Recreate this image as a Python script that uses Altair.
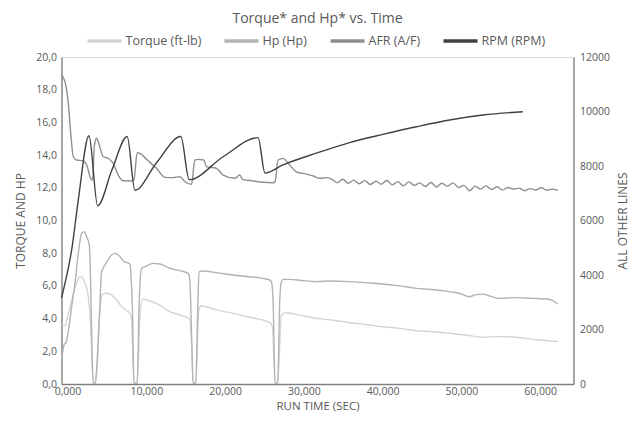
import altair as alt
import pandas as pd

series_names = ["Torque (ft-lb)", "Hp (Hp)", "AFR (A/F)", "RPM (RPM)"]
series_colors = ["#d4d4d4", "#b3b3b3", "#8f8f8f", "#404040"]

torque_t = [0.05, 0.44, 0.66, 1.08, 1.71, 2.26, 2.56, 2.98, 3.40, 3.61, 3.83, 4.03, 4.29, 4.46,
            4.88, 5.22, 5.73, 6.37, 7.00, 7.63, 8.69, 8.90, 9.19, 9.61, 9.95, 10.30, 10.80,
            12.49, 13.76, 15.03, 16.29, 16.51, 16.71, 17.05, 17.44, 17.78, 19.68, 21.78, 23.90,
            26.44, 26.78, 27.11, 27.45, 27.92, 28.47, 30.5, 32.36, 34.5, 36.58, 38.7, 40.81,
            43.0, 45.04, 47.2, 49.26, 51.5, 53.49, 55.6, 57.72, 59.82, 61.5, 63.0]
torque_v = [3.61, 3.55, 3.91, 4.73, 5.85, 6.52, 6.56, 6.16, 5.34, 4.32, 2.08, 0.05, 0.05, 0.67,
            4.53, 5.49, 5.55, 5.44, 5.14, 4.73, 4.32, 3.91, 0.05, 0.05, 4.12, 5.18, 5.14,
            4.83, 4.42, 4.22, 3.96, 2.50, 0.05, 0.05, 4.53, 4.77, 4.53, 4.32, 4.08,
            3.75, 3.50, 0.05, 0.05, 4.22, 4.36, 4.18, 4.02, 3.90, 3.75, 3.64, 3.50,
            3.40, 3.26, 3.20, 3.10, 2.98, 2.86, 2.90, 2.86, 2.73, 2.66, 2.59]

hp_t = [0.05, 0.32, 0.57, 0.86, 1.29, 1.71, 2.13, 2.56, 2.85, 3.20, 3.53, 3.70, 3.87, 4.03,
        4.29, 4.46, 4.79, 5.10, 5.52, 6.37, 6.78, 7.42, 7.84, 8.69, 8.81, 9.03, 9.19, 9.61,
        9.87, 10.17, 10.59, 11.64, 12.49, 13.76, 15.03, 16.08, 16.29, 16.51, 16.71, 17.05,
        17.27, 17.47, 17.98, 19.68, 21.78, 23.90, 25.59, 26.44, 26.65, 26.86, 27.11, 27.45,
        27.71, 27.92, 28.12, 28.97, 30.5, 32.36, 34.0, 36.58, 38.5, 40.81, 43.0, 45.04,
        47.0, 49.26, 50.5, 51.8, 52.5, 53.49, 54.5, 55.6, 57.5, 59.82, 61.94, 63.0]
hp_v = [1.57, 2.39, 2.53, 3.20, 4.73, 6.16, 7.99, 9.21, 9.31, 9.00, 8.50, 6.16, 2.08, 0.05,
        0.05, 0.86, 3.90, 6.87, 7.28, 7.89, 7.99, 7.79, 7.52, 7.34, 6.77, 4.12, 0.05, 0.05,
        5.14, 7.08, 7.17, 7.38, 7.34, 7.08, 6.93, 6.77, 6.36, 3.10, 0.05, 0.05,
        4.12, 6.87, 6.91, 6.81, 6.67, 6.56, 6.46, 6.36, 6.26, 5.14, 0.05, 0.05,
        5.14, 6.26, 6.40, 6.40, 6.33, 6.26, 6.30, 6.26, 6.20, 6.12, 6.00, 5.85,
        5.78, 5.65, 5.55, 5.34, 5.45, 5.50, 5.36, 5.24, 5.28, 5.24, 5.18, 4.89]

afr_t = [0.0, 0.44, 0.86, 1.17, 1.50, 1.93, 2.76, 3.20, 3.70, 3.96, 4.16, 4.46, 4.79, 5.30,
         5.93, 6.57, 7.20, 7.84, 8.90, 9.19, 9.61, 9.95, 10.80, 12.07, 13.12, 14.18, 15.03,
         15.66, 16.51, 16.93, 17.35, 18.07, 18.41, 19.68, 20.52, 22.00, 22.63, 22.98, 24.32,
         25.59, 26.86, 27.11, 27.49, 28.12, 28.97, 29.82, 31.09, 32.00, 32.78, 33.6, 34.46,
         35.0, 35.7, 36.4, 37.1, 37.8, 38.5, 39.2, 39.9, 40.6, 41.3, 42.0, 42.7, 43.4, 44.1,
         44.8, 45.5, 46.2, 46.9, 47.6, 48.3, 49.0, 49.7, 50.4, 51.1, 51.8, 52.5, 53.2, 53.9,
         54.6, 55.3, 56.0, 56.7, 57.4, 58.1, 58.8, 59.5, 60.2, 60.9, 61.6, 62.3, 63.0]
afr_v = [18.90, 18.49, 17.17, 15.33, 13.90, 13.70, 13.66, 13.39, 12.58, 12.48, 14.51, 15.03,
         14.62, 13.90, 13.80, 13.50, 12.78, 12.43, 12.42, 12.48, 14.15, 14.11, 13.74, 13.19,
         12.64, 12.62, 12.68, 12.37, 12.21, 13.70, 13.74, 13.70, 13.29, 13.19, 12.78, 12.58,
         12.78, 12.52, 12.42, 12.34, 12.31, 12.37, 13.70, 13.80, 13.39, 12.98, 12.84, 12.72,
         12.58, 12.62, 12.48,
         12.30, 12.52, 12.28, 12.47, 12.25, 12.44, 12.20, 12.40, 12.22, 12.45, 12.18, 12.38,
         12.12, 12.36, 12.15, 12.30, 12.08, 12.32, 12.05, 12.28, 12.10, 12.30, 12.02, 12.15,
         11.82, 12.10, 11.92, 12.12, 11.90, 12.06, 11.86, 12.02, 11.92, 11.98, 11.82, 11.95,
         11.86, 12.00, 11.85, 11.92, 11.85]

rpm_t = [0.0, 0.86, 1.29, 2.13, 3.49, 4.59, 6.4, 8.34, 9.32, 12.07, 15.15, 16.21, 20.52,
         24.95, 25.84, 28.12, 32.36, 36.58, 40.81, 45.04, 49.26, 53.49, 58.56]
rpm_v = [3150, 4250, 4920, 6750, 9110, 6540, 7850, 9080, 7110, 8120, 9080, 7500, 8340,
         9040, 7740, 8040, 8470, 8860, 9160, 9440, 9690, 9870, 9990]

left_rows = []
for name, ts, vs in [(series_names[0], torque_t, torque_v),
                     (series_names[1], hp_t, hp_v),
                     (series_names[2], afr_t, afr_v)]:
    for i, (t, v) in enumerate(zip(ts, vs)):
        left_rows.append({"t": t, "v": v, "series": name, "i": i})
left_df = pd.DataFrame(left_rows)
rpm_df = pd.DataFrame({"t": rpm_t, "v": rpm_v, "series": series_names[3], "i": range(len(rpm_t))})

FONT = "Open Sans"
TXT = "#595959"

color = alt.Color(
    "series:N",
    scale=alt.Scale(domain=series_names, range=series_colors),
    legend=alt.Legend(
        title=None, orient="none", direction="horizontal", columns=4,
        legendX=24, legendY=-35, padding=0,
        symbolType="stroke", symbolSize=1156, symbolStrokeWidth=3.5,
        labelFont=FONT, labelFontSize=12.5, labelColor=TXT, labelOffset=2,
        columnPadding=16,
    ),
)

x = alt.X(
    "t:Q",
    scale=alt.Scale(domain=[0, 65], nice=False, zero=False),
    axis=alt.Axis(
        title="RUN TIME (SEC)", values=[0, 10, 20, 30, 40, 50, 60],
        labelExpr="replace(format(datum.value, '.3f'), '.', ',')",
        labelFlush=False, labelOffset=6,
        grid=False, ticks=False, labelPadding=2, titlePadding=4,
        domainColor="#7f7f7f", domainWidth=1.3,
        labelFont=FONT, labelFontSize=10.5, labelColor=TXT,
        titleFont=FONT, titleFontSize=11.5, titleFontWeight="normal", titleColor=TXT,
    ),
)

left = alt.Chart(left_df).mark_line(strokeWidth=1.4, interpolate="monotone").encode(
    x=x,
    y=alt.Y(
        "v:Q",
        scale=alt.Scale(domain=[0, 20], nice=False),
        axis=alt.Axis(
            title="TORQUE AND HP", values=list(range(0, 21, 2)),
            labelExpr="replace(format(datum.value, '.1f'), '.', ',')",
            labelFlush=False,
            grid=False, ticks=False, labelPadding=5, titlePadding=8,
            domainColor="#7f7f7f", domainWidth=1.3,
            labelFont=FONT, labelFontSize=10.5, labelColor=TXT,
            titleFont=FONT, titleFontSize=12, titleFontWeight="normal", titleColor=TXT,
        ),
    ),
    color=color,
    order="i:Q",
)

right = alt.Chart(rpm_df).mark_line(strokeWidth=1.4, interpolate="monotone").encode(
    x=x,
    y=alt.Y(
        "v:Q",
        scale=alt.Scale(domain=[0, 12000], nice=False),
        axis=alt.Axis(
            title="ALL OTHER LINES", orient="right", values=list(range(0, 12001, 2000)),
            format="d", labelFlush=False,
            grid=False, ticks=False, labelPadding=6, titlePadding=8,
            titleAngle=270, titleBaseline="top",
            domainColor="#7f7f7f", domainWidth=1.3,
            labelFont=FONT, labelFontSize=10.5, labelColor=TXT,
            titleFont=FONT, titleFontSize=12, titleFontWeight="normal", titleColor=TXT,
        ),
    ),
    color=color,
    order="i:Q",
)

chart = alt.layer(left, right).resolve_scale(y="independent").properties(
    width=512,
    height=327,
    title=alt.TitleParams(
        "Torque* and Hp* vs. Time", font=FONT, fontSize=14, fontWeight="normal",
        color=TXT, anchor="middle", offset=0, dy=4,
    ),
    autosize=alt.AutoSizeParams(type="none"),
    padding={"left": 53.5, "top": 49, "right": 58, "bottom": 30},
).configure_view(stroke="#7f7f7f", strokeWidth=1.3).configure(background="white")

chart.save("out.html", embed_options={"renderer": "svg", "actions": False})
